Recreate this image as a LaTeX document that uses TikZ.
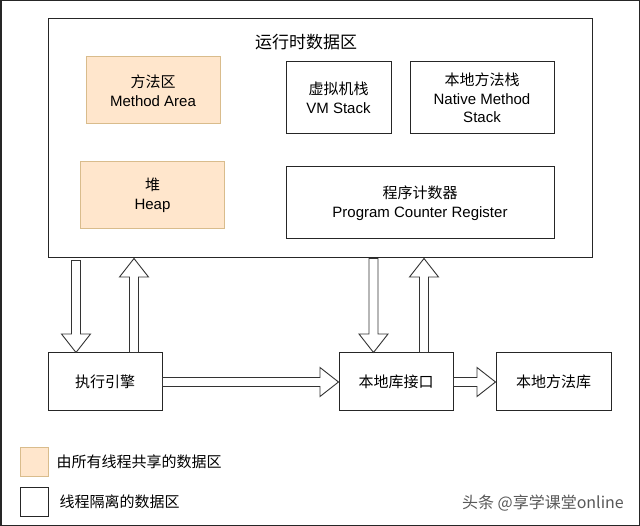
\documentclass[tikz,border=0pt]{standalone}
\usepackage{fontspec}
\setmainfont{Liberation Sans}
\newfontfamily\cjk{Noto Sans CJK SC}
\usetikzlibrary{calc}
\definecolor{sharedfill}{HTML}{FFE6CC}
\definecolor{shareddraw}{HTML}{D9BC8C}
\tikzset{
  area/.style={draw=black!85,line width=1pt,align=center,inner sep=0pt,font=\fontsize{15}{18.5}\selectfont},
  shared/.style={area,draw=shareddraw,fill=sharedfill},
  hollow/.style={draw=black!80,line width=0.9pt,fill=white,line join=miter},
}
\newcommand\flexarrow[2]{%
\coordinate (fa-s) at (#1);\coordinate (fa-e) at (#2);
\coordinate (fa-h) at ($(fa-e)!18.5pt!(fa-s)$);
\draw[hollow]($(fa-s)!4.5pt!90:(fa-e)$)--($(fa-h)!4.5pt!-90:(fa-s)$)--($(fa-h)!14.5pt!-90:(fa-s)$)--(fa-e)
--($(fa-h)!14.5pt!90:(fa-s)$)--($(fa-h)!4.5pt!90:(fa-s)$)--($(fa-s)!4.5pt!-90:(fa-e)$)--cycle;}
\begin{document}
\begin{tikzpicture}[x=1pt,y=-1pt]
\useasboundingbox (0,0) rectangle (640,526);
\fill[white] (0,0) rectangle (640,526);
\draw[black!85,line width=1.5pt] (0.75,0.75) rectangle (639.25,525.25);
% runtime data area
\node[area,minimum width=544,minimum height=239] (rt) at (320,138.5) {};
\node[font=\cjk\fontsize{17}{20}\selectfont] (title) at (306,42) {运行时数据区};
\node[shared,minimum width=134,minimum height=67] (ma) at (153,90.5) {{\cjk 方法区}\\Method Area};
\node[shared,minimum width=144,minimum height=67] (heap) at (152.5,195.5) {{\cjk 堆}\\Heap};
\node[area,minimum width=105,minimum height=72] (vm) at (338.5,98) {{\cjk 虚拟机栈}\\VM Stack};
\node[area,minimum width=144,minimum height=72] (nms) at (482,98) {{\cjk 本地方法栈}\\Native Method\\Stack};
\node[area,minimum width=268,minimum height=72] (pc) at (420,203) {{\cjk 程序计数器}\\Program Counter Register};
% engine and native interface
\node[area,minimum width=114,minimum height=58,font=\cjk\fontsize{15}{18}\selectfont] (exe) at (105,382) {执行引擎};
\node[area,minimum width=114,minimum height=58,font=\cjk\fontsize{15}{18}\selectfont] (jni) at (396,382) {本地库接口};
\node[area,minimum width=115,minimum height=58,font=\cjk\fontsize{15}{18}\selectfont] (lib) at (553.5,382) {本地方法库};
\coordinate (d1) at ($(exe.north west)+(28.5,0)$);
\coordinate (u1) at ($(exe.north west)+(86.5,0)$);
\coordinate (d2) at ($(jni.north west)+(35,0)$);
\coordinate (u2) at ($(jni.north west)+(85.5,0)$);
\flexarrow{$(d1 |- rt.south)+(0,2)$}{d1}
\flexarrow{u1}{u1 |- rt.south}
\flexarrow{d2 |- rt.south}{d2}
\flexarrow{u2}{u2 |- rt.south}
\flexarrow{exe.east}{jni.west}
\flexarrow{jni.east}{lib.west}
% legend
\node[shared,minimum width=28,minimum height=29] (keyshared) at (34,461.5) {};
\node[area,minimum width=28,minimum height=29] (keyprivate) at (34,501.5) {};
\node[anchor=west,font=\cjk\fontsize{15}{18}\selectfont,inner sep=0pt] at ($(keyshared.east)+(8,0)$) {由所有线程共享的数据区};
\node[anchor=west,font=\cjk\fontsize{15}{18}\selectfont,inner sep=0pt] at ($(keyprivate.east)+(11,0)$) {线程隔离的数据区};
\node[anchor=east,font=\cjk\fontsize{16}{19}\selectfont,text=black!65,inner sep=0pt] at (624,503) {头条 @享学课堂online};
\end{tikzpicture}
\end{document}
